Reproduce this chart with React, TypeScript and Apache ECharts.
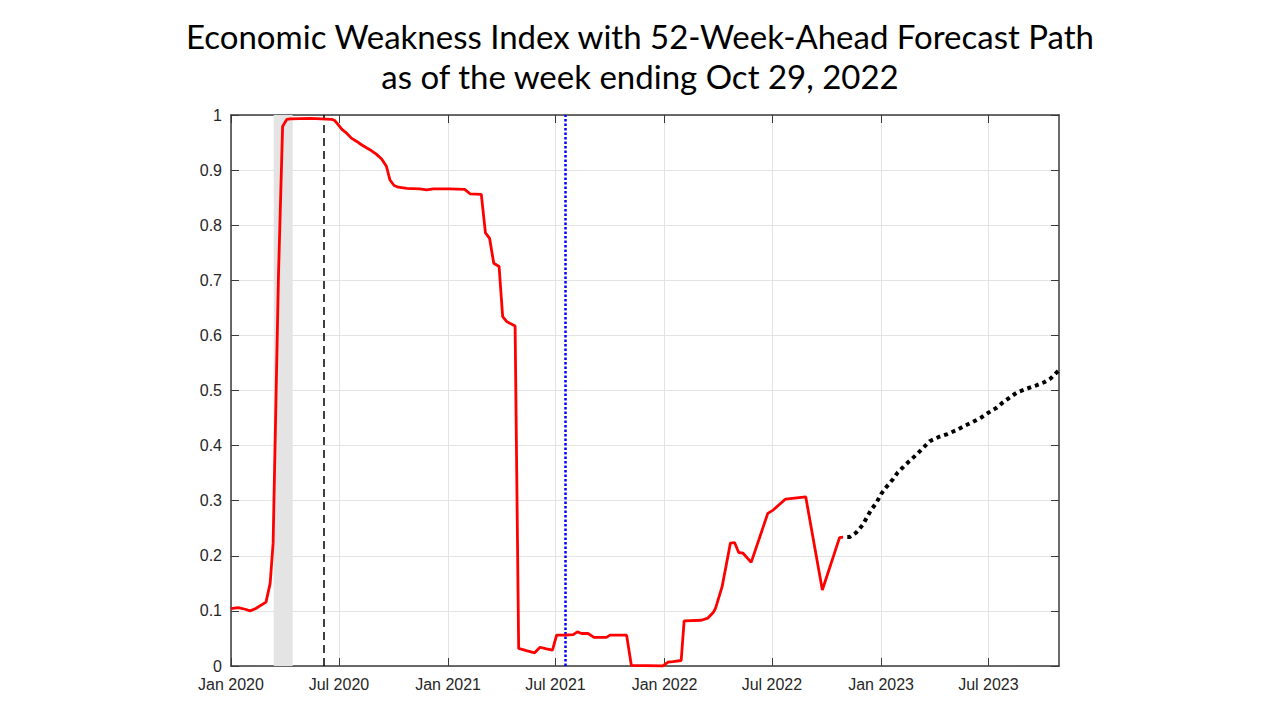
import React, { useEffect, useRef } from "react";
import * as echarts from "echarts";

const titleLines = [
  "Economic Weakness Index with 52-Week-Ahead Forecast Path",
  "as of the week ending Oct 29, 2022",
];

const indexDates = [
  "2020-01-01", "2020-01-13", "2020-01-25", "2020-02-02", "2020-02-11", "2020-02-29",
  "2020-03-07", "2020-03-12", "2020-03-21", "2020-03-28", "2020-04-04", "2020-04-10",
  "2020-05-14", "2020-06-19", "2020-06-24", "2020-06-30", "2020-07-06", "2020-07-14",
  "2020-07-22", "2020-07-31", "2020-08-08", "2020-08-17", "2020-08-25", "2020-09-02",
  "2020-09-11", "2020-09-19", "2020-09-25", "2020-10-02", "2020-10-09", "2020-10-23",
  "2020-11-14", "2020-11-26", "2020-12-07", "2021-01-04", "2021-01-29", "2021-02-07",
  "2021-02-26", "2021-03-05", "2021-03-12", "2021-03-19", "2021-03-28", "2021-04-03",
  "2021-04-10", "2021-04-24", "2021-04-30", "2021-05-13", "2021-05-27", "2021-06-05",
  "2021-06-16", "2021-06-26", "2021-07-03", "2021-07-17", "2021-07-31", "2021-08-07",
  "2021-08-14", "2021-08-25", "2021-09-04", "2021-09-25", "2021-10-01", "2021-10-29",
  "2021-11-06", "2021-12-29", "2022-01-07", "2022-01-15", "2022-01-29", "2022-02-03",
  "2022-03-04", "2022-03-15", "2022-03-24", "2022-03-28", "2022-04-08", "2022-04-22",
  "2022-04-29", "2022-05-06", "2022-05-13", "2022-05-27", "2022-06-24", "2022-07-03",
  "2022-07-24", "2022-08-27", "2022-09-24", "2022-10-23", "2022-10-29",
];
const indexValues = [
  0.104, 0.106, 0.103, 0.100, 0.104, 0.116,
  0.150, 0.223, 0.707, 0.979, 0.992, 0.993,
  0.994, 0.992, 0.990, 0.982, 0.974, 0.967,
  0.958, 0.952, 0.946, 0.940, 0.935, 0.929,
  0.920, 0.907, 0.882, 0.872, 0.869, 0.867,
  0.866, 0.864, 0.866, 0.866, 0.865, 0.857,
  0.856, 0.786, 0.776, 0.731, 0.725, 0.634,
  0.625, 0.617, 0.032, 0.028, 0.024, 0.034,
  0.031, 0.029, 0.056, 0.056, 0.057, 0.062,
  0.059, 0.059, 0.052, 0.052, 0.056, 0.056,
  0.001, 0.000, 0.007, 0.008, 0.010, 0.082,
  0.083, 0.087, 0.097, 0.105, 0.144, 0.223,
  0.224, 0.206, 0.205, 0.188, 0.277, 0.283,
  0.303, 0.307, 0.138, 0.233, 0.234,
];

const forecastDates = [
  "2022-11-05", "2022-11-09", "2022-11-20", "2022-12-01", "2022-12-15", "2022-12-24",
  "2023-01-01", "2023-01-10", "2023-01-21", "2023-01-29", "2023-02-09", "2023-02-21",
  "2023-03-04", "2023-03-15", "2023-03-24", "2023-04-09", "2023-04-23", "2023-05-08",
  "2023-05-22", "2023-06-05", "2023-06-19", "2023-06-30", "2023-07-14", "2023-07-25",
  "2023-08-08", "2023-08-19", "2023-09-03", "2023-09-19", "2023-10-03", "2023-10-14",
  "2023-10-28",
];
const forecastValues = [
  0.234, 0.234, 0.242, 0.256, 0.283, 0.296,
  0.312, 0.325, 0.339, 0.351, 0.363, 0.375,
  0.386, 0.398, 0.408, 0.416, 0.421, 0.428,
  0.436, 0.443, 0.451, 0.459, 0.468, 0.478,
  0.489, 0.497, 0.503, 0.509, 0.515, 0.522,
  0.537,
];

const xTickDates = [
  "2020-01-01", "2020-07-01", "2021-01-01", "2021-07-01",
  "2022-01-01", "2022-07-01", "2023-01-01", "2023-07-01",
];
const xRange = ["2020-01-01", "2023-10-28"];
const recessionBand = ["2020-03-13", "2020-04-14"];
const troughLineDate = "2020-06-06";
const trainEndLineDate = "2021-07-17";

const monthNames = ["Jan", "Feb", "Mar", "Apr", "May", "Jun", "Jul", "Aug", "Sep", "Oct", "Nov", "Dec"];
const ts = (s: string) => Date.UTC(+s.slice(0, 4), +s.slice(5, 7) - 1, +s.slice(8, 10));

export default function App() {
  const ref = useRef<HTMLDivElement>(null);
  useEffect(() => {
    if (!ref.current) return;
    const chart = echarts.init(ref.current, undefined, { renderer: "svg" });
    const axisColor = "#3a3a3a";
    const labelColor = "#262626";
    const gridColor = "#e3e3e3";
    const tickVals = xTickDates.map(ts);
    const fmt = (v: number) => {
      const d = new Date(v);
      return monthNames[d.getUTCMonth()] + " " + d.getUTCFullYear();
    };
    chart.setOption({
      animation: false,
      backgroundColor: "#ffffff",
      title: {
        text: titleLines.join("\n"),
        left: "center",
        top: 11,
        textStyle: {
          fontFamily: "Lato",
          fontWeight: "normal",
          fontSize: 33,
          lineHeight: 40,
          color: "#000000",
        },
      },
      grid: { left: 231, right: 221, top: 115, bottom: 54 },
      xAxis: [
        {
          type: "value",
          min: ts(xRange[0]),
          max: ts(xRange[1]),
          position: "bottom",
          axisLine: { show: true, onZero: false, lineStyle: { color: axisColor, width: 1.5 } },
          axisTick: { show: true, inside: true, length: 8, customValues: tickVals, lineStyle: { color: axisColor, width: 1 } },
          axisLabel: {
            show: true,
            customValues: tickVals,
            formatter: fmt,
            color: labelColor,
            fontFamily: "Liberation Sans, Arial, sans-serif",
            fontSize: 16,
            margin: 10,
            hideOverlap: false,
          },
          splitLine: { show: true, lineStyle: { color: gridColor, width: 1 } },
        },
        {
          type: "value",
          min: ts(xRange[0]),
          max: ts(xRange[1]),
          position: "top",
          axisLine: { show: true, onZero: false, lineStyle: { color: axisColor, width: 1.5 } },
          axisTick: { show: true, inside: true, length: 8, customValues: tickVals, lineStyle: { color: axisColor, width: 1 } },
          axisLabel: { show: false, customValues: tickVals },
          splitLine: { show: false },
        },
      ],
      yAxis: [
        {
          type: "value",
          min: 0,
          max: 1,
          interval: 0.1,
          position: "left",
          axisLine: { show: true, onZero: false, lineStyle: { color: axisColor, width: 1.5 } },
          axisTick: { show: true, inside: true, length: 8, lineStyle: { color: axisColor, width: 1 } },
          axisLabel: {
            color: labelColor,
            fontFamily: "Liberation Sans, Arial, sans-serif",
            fontSize: 16,
            margin: 9,
          },
          splitLine: { show: true, lineStyle: { color: gridColor, width: 1 } },
        },
        {
          type: "value",
          min: 0,
          max: 1,
          interval: 0.1,
          position: "right",
          axisLine: { show: true, onZero: false, lineStyle: { color: axisColor, width: 1.5 } },
          axisTick: { show: true, inside: true, length: 8, lineStyle: { color: axisColor, width: 1 } },
          axisLabel: { show: false },
          splitLine: { show: false },
        },
      ],
      series: [
        {
          type: "line",
          name: "band",
          data: [],
          silent: true,
          markArea: {
            silent: true,
            itemStyle: { color: "#e4e4e4" },
            data: [[{ xAxis: ts(recessionBand[0]) }, { xAxis: ts(recessionBand[1]) }]],
          },
          z: 1,
        },
        {
          type: "line",
          name: "Index",
          data: indexDates.map((d, i) => [ts(d), indexValues[i]]),
          showSymbol: false,
          symbol: "none",
          lineStyle: { color: "#ff0000", width: 2.8 },
          z: 5,
          markLine: {
            silent: true,
            symbol: ["none", "none"],
            label: { show: false },
            data: [
              { xAxis: ts(troughLineDate), lineStyle: { color: "#000000", width: 1.5, type: [8, 5] } },
              { xAxis: ts(trainEndLineDate), lineStyle: { color: "#0000ff", width: 2.5, type: [2.5, 2] } },
            ],
          },
        },
        {
          type: "line",
          name: "Forecast",
          data: forecastDates.map((d, i) => [ts(d), forecastValues[i]]),
          showSymbol: false,
          symbol: "none",
          lineStyle: { color: "#000000", width: 4, type: [4, 4] },
          z: 5,
        },
      ],
    });
    return () => chart.dispose();
  }, []);
  return (
    <div
      ref={ref}
      style={{ position: "fixed", left: 0, top: 0, width: 1280, height: 720 }}
    />
  );
}
